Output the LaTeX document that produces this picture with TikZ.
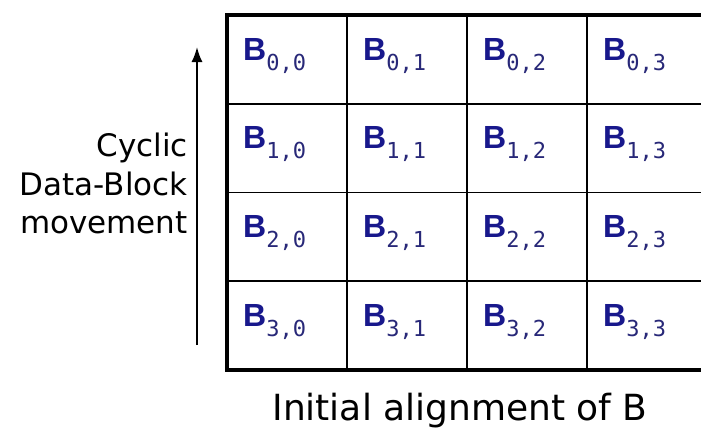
\documentclass[tikz,border=0pt]{standalone}
\usepackage{fontspec}
\setmainfont{DejaVu Sans}
\newfontfamily\bfam{Liberation Sans}
\newfontfamily\subfam{DejaVu Sans Mono}
\usetikzlibrary{arrows.meta}
\definecolor{bnavy}{RGB}{24,24,140}
\definecolor{snavy}{RGB}{40,40,120}
\tikzset{
  cellbox/.style={draw=black, line width=1.8pt, minimum width=120pt, minimum height=88.75pt, inner sep=0pt, outer sep=0pt},
  blabel/.style={anchor=base west, inner sep=0pt, text=bnavy},
  sidetext/.style={anchor=base east, inner sep=0pt, font=\fontsize{31pt}{38pt}\selectfont},
  bottomtext/.style={anchor=base, inner sep=0pt, font=\fontsize{36pt}{42pt}\selectfont},
  movearrow/.style={line width=1.8pt, -{Latex[length=15pt,width=11pt]}}
}
\newcommand{\blk}[2]{{\bfam\bfseries\fontsize{32pt}{36pt}\selectfont B}{\subfam\fontsize{22pt}{24pt}\selectfont\color{snavy}\raisebox{-10pt}{#1,#2}}}
\begin{document}
\begin{tikzpicture}[x=1pt,y=-1pt]
\useasboundingbox (0,0) rectangle (701,431);
\fill[white] (0,0) rectangle (701,431);
\clip (0,0) rectangle (701,431);
\foreach \r in {0,1,2,3}{
  \foreach \c in {0,1,2,3}{
    \node[cellbox, anchor=north west] (c-\r-\c) at ({227+120*\c},{15+88.75*\r}) {};
    \node[blabel] (l-\r-\c) at ([xshift=16pt,yshift=-45pt]c-\r-\c.north west) {\blk{\r}{\c}};
  }
}
\draw[line width=4.5pt, line join=miter] (c-0-0.north west) rectangle (c-3-3.south east);
\coordinate (abot) at (197,345);
\coordinate (atop) at (197,47);
\draw[movearrow] (abot) -- (atop);
\node[sidetext] (t1) at (188,156) {Cyclic};
\node[sidetext] (t2) at (188,195) {Data-Block};
\node[sidetext] (t3) at (188,233) {movement};
\node[bottomtext] (bt) at (460,420) {Initial alignment of B};
\end{tikzpicture}
\end{document}
